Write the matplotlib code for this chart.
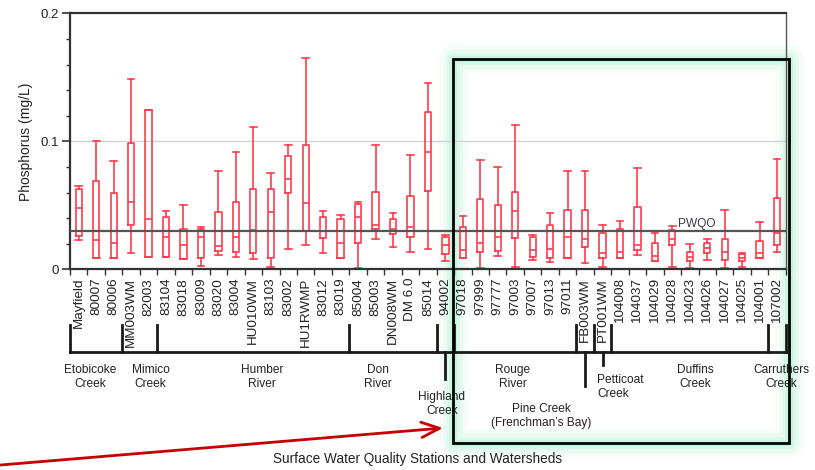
import matplotlib
matplotlib.use("Agg")
import matplotlib.pyplot as plt
from matplotlib import font_manager
from matplotlib.patches import Rectangle
from matplotlib.ticker import FixedLocator, MultipleLocator

# Station order along the x axis
stations = ["Mayfield", "80007", "80006", "MM003WM", "82003", "83104", "83018",
            "83009", "83020", "83004", "HU010WM", "83103", "83002", "HU1RWMP",
            "83012", "83019", "85004", "85003", "DN008WM", "DM 6.0", "85014",
            "94002", "97018", "97999", "97777", "97003", "97007", "97013",
            "97011", "FB003WM", "PT001WM", "104008", "104037", "104029",
            "104028", "104023", "104026", "104027", "104025", "104001", "107002"]

# Box statistics, phosphorus mg/L
whis_hi = [0.065, 0.100, 0.085, 0.149, 0.1245, 0.046, 0.050, 0.033, 0.077, 0.092,
           0.111, 0.0755, 0.097, 0.1653, 0.0453, 0.0427, 0.053, 0.097, 0.0442, 0.0895,
           0.1458, 0.027, 0.042, 0.0854, 0.080, 0.113, 0.027, 0.0438, 0.077, 0.077,
           0.0349, 0.038, 0.079, 0.0286, 0.0338, 0.0198, 0.0239, 0.0463, 0.0125, 0.037,
           0.0864]
q3 = [0.0625, 0.0688, 0.060, 0.099, 0.1245, 0.0406, 0.032, 0.032, 0.0448, 0.053,
      0.063, 0.063, 0.0885, 0.097, 0.0406, 0.0395, 0.051, 0.0604, 0.0395, 0.0573,
      0.1229, 0.0255, 0.0333, 0.0547, 0.050, 0.0604, 0.025, 0.0344, 0.0463, 0.0463,
      0.0286, 0.0313, 0.0489, 0.0203, 0.0307, 0.0135, 0.0208, 0.0239, 0.012, 0.0219,
      0.0557]
median = [0.048, 0.023, 0.021, 0.053, 0.0395, 0.025, 0.0192, 0.025, 0.018, 0.025,
          0.0307, 0.0448, 0.0708, 0.052, 0.030, 0.021, 0.0406, 0.0344, 0.0313, 0.0333,
          0.0916, 0.0188, 0.0156, 0.0203, 0.0255, 0.0453, 0.0156, 0.016, 0.025, 0.0239,
          0.0125, 0.0135, 0.0188, 0.0109, 0.0239, 0.0094, 0.0166, 0.0135, 0.0088, 0.0125,
          0.0286]
q1 = [0.026, 0.009, 0.009, 0.035, 0.0094, 0.0095, 0.0083, 0.0088, 0.0145, 0.0135,
      0.0125, 0.0088, 0.0594, 0.030, 0.0242, 0.0088, 0.0208, 0.0313, 0.0276, 0.025,
      0.0614, 0.012, 0.0088, 0.0135, 0.0145, 0.0245, 0.0094, 0.0088, 0.0088, 0.0172,
      0.0088, 0.0088, 0.0156, 0.0067, 0.0188, 0.0063, 0.0125, 0.0078, 0.0063, 0.0088,
      0.0188]
whis_lo = [0.023, 0.009, 0.009, 0.0125, 0.0094, 0.0095, 0.008, 0.003, 0.0114, 0.0095,
           0.0083, 0.0016, 0.016, 0.0192, 0.0125, 0.0088, 0.001, 0.0239, 0.0172, 0.0135,
           0.016, 0.0063, 0.0088, 0.001, 0.0104, 0.002, 0.0078, 0.0057, 0.0088, 0.0047,
           0.002, 0.0088, 0.0114, 0.0067, 0.002, 0.001, 0.0078, 0.001, 0.002, 0.0088,
           0.0135]

pwqo = 0.03

# Watershed groups: (label, first station index, station count)
watersheds = [("Etobicoke\nCreek", 0, 3), ("Mimico\nCreek", 3, 2),
              ("Humber\nRiver", 5, 11), ("Don\nRiver", 16, 5),
              ("Highland\nCreek", 21, 1), ("Rouge\nRiver", 22, 7),
              ("Pine Creek\n(Frenchman\u2019s Bay)", 29, 1),
              ("Petticoat\nCreek", 30, 1), ("Duffins\nCreek", 31, 9),
              ("Carruthers\nCreek", 40, 1)]

names = {f.name for f in font_manager.fontManager.ttflist}
if "Liberation Sans Narrow" in names:
    narrow, nsize = "Liberation Sans Narrow", 10
else:
    narrow, nsize = "Liberation Sans", 8.6
plt.rcParams["font.family"] = ["Liberation Sans", "DejaVu Sans"]

RED = "#ff3b4e"
INK = "#222222"

fig = plt.figure(figsize=(8.15, 4.7), dpi=100)
ax = fig.add_axes([0.0859, 0.4266, 0.8783, 0.5451])
ax.patch.set_alpha(0)

n = len(stations)
stats = [dict(med=median[i], q1=q1[i], q3=q3[i], whislo=whis_lo[i],
              whishi=whis_hi[i], fliers=[], label=stations[i]) for i in range(n)]
line = dict(color=RED, linewidth=1.2)
ax.bxp(stats, positions=range(n), widths=0.36, capwidths=0.38, showfliers=False,
       boxprops=line, whiskerprops=line, capprops=line, medianprops=line,
       manage_ticks=False)

ax.set_xlim(-0.5, n - 0.5)
ax.set_ylim(0, 0.2)

# reference lines
ax.axhline(0.1, color="#d4d4d4", linewidth=1.0, zorder=0)
ax.axhline(pwqo, color="#555555", linewidth=1.6, zorder=3)
ax.text(35.4, pwqo + 0.0012, "PWQO", ha="center", va="bottom",
        fontsize=nsize, family=narrow, color="#3a3a4a")

# axes styling
for side in ["left", "bottom", "top"]:
    ax.spines[side].set_color("#333333")
    ax.spines[side].set_linewidth(1.6)
ax.spines["right"].set_color("#555555")
ax.spines["right"].set_linewidth(1.0)

ax.yaxis.set_major_locator(FixedLocator([0, 0.1, 0.2]))
ax.yaxis.set_minor_locator(MultipleLocator(0.02))
ax.set_yticklabels(["0", "0.1", "0.2"])
ax.tick_params(axis="y", which="major", length=6, width=1.2, color="#333333",
               labelsize=9.5, labelcolor=INK, pad=2)
ax.tick_params(axis="y", which="minor", length=3, width=1.0, color="#333333")
ax.set_ylabel("Phosphorus (mg/L)", fontsize=10, color=INK, labelpad=5)

ax.set_xticks(range(n))
ax.set_xticklabels(stations, rotation=90, fontsize=9.7, color=INK)
ax.xaxis.set_minor_locator(FixedLocator([k - 0.5 for k in range(n + 1)]))
ax.tick_params(axis="x", which="major", length=0, pad=6)
ax.tick_params(axis="x", which="minor", length=4, width=1.0, color="#333333")

# watershed brackets below the station labels
xt = ax.get_xaxis_transform()
bk = dict(color="#1a1a1a", linewidth=2.0, transform=xt, clip_on=False)
ax.plot([-0.5, n - 0.5], [-0.3227, -0.3227], **bk)
for k in [0, 3, 5, 16, 21, 22, 29, 30, 31, 40, 41]:
    ax.plot([k - 0.5, k - 0.5], [-0.2173, -0.3227], **bk)
for idx, depth in [(21, -0.4264), (29, -0.4537), (30, -0.373)]:
    ax.plot([idx, idx], [-0.3227, depth], **bk)

label_pos = {"Etobicoke\nCreek": (0.65, -0.42, "center"),
             "Mimico\nCreek": (4.12, -0.42, "center"),
             "Humber\nRiver": (10.48, -0.42, "center"),
             "Don\nRiver": (17.14, -0.42, "center"),
             "Highland\nCreek": (20.8, -0.525, "center"),
             "Rouge\nRiver": (24.87, -0.42, "center"),
             "Pine Creek\n(Frenchman\u2019s Bay)": (26.5, -0.573, "center"),
             "Petticoat\nCreek": (29.68, -0.458, "left"),
             "Duffins\nCreek": (35.34, -0.42, "center"),
             "Carruthers\nCreek": (40.26, -0.42, "center")}
for name, first, count in watersheds:
    x, y, ha = label_pos[name]
    ax.text(x, y, name, transform=xt, ha=ha, va="center", multialignment=ha,
            fontsize=nsize, family=narrow, color=INK, linespacing=1.25)

fig.text(417.5 / 815, 0.0234, "Surface Water Quality Stations and Watersheds",
         ha="center", va="center", fontsize=nsize + 1.2, family=narrow, color=INK)

# highlighted region: soft mint glow behind the chart, black frame on top
x0, y0, x1, y1 = 453 / 815, 27 / 470, 789.3 / 815, 411 / 470
for lw, a in [(20, 0.10), (14, 0.14), (9, 0.18), (5, 0.25)]:
    fig.patches.append(Rectangle((x0, y0), x1 - x0, y1 - y0, transform=fig.transFigure,
                                 fill=False, edgecolor="#9eeecb", linewidth=lw,
                                 alpha=a, joinstyle="round", zorder=-1))
fig.patches.append(Rectangle((x0, y0), x1 - x0, y1 - y0, transform=fig.transFigure,
                             fill=False, edgecolor="black", linewidth=2.0, zorder=6))

# pointer arrow into the highlighted region
ax.annotate("", xy=(443 / 815, 42 / 470), xycoords="figure fraction",
            xytext=(-0.005, 4.6 / 470), textcoords="figure fraction",
            arrowprops=dict(arrowstyle="->,head_length=1.3,head_width=0.55",
                            color="#c40000", linewidth=2.0, shrinkA=0, shrinkB=0))

fig.savefig("out.png", dpi=100, facecolor="white")
